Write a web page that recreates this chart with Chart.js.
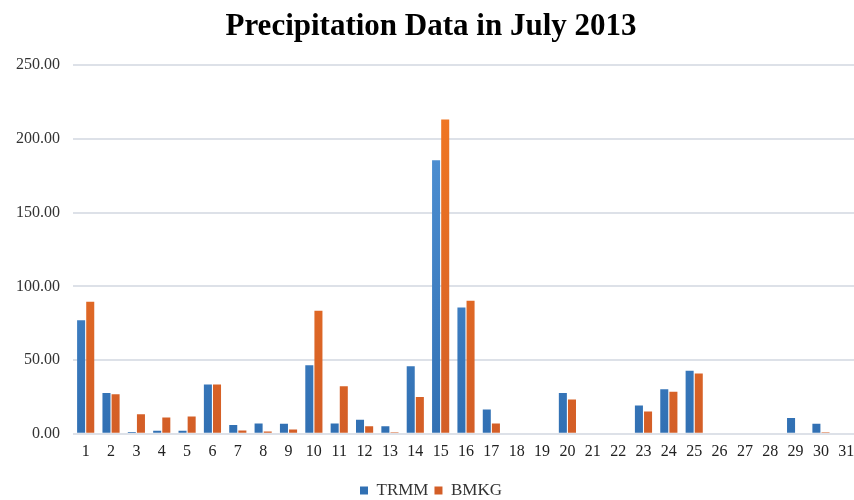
<!DOCTYPE html>
<html>
<head>
<meta charset="utf-8">
<script src="https://cdn.jsdelivr.net/npm/chart.js@4"></script>
<style>
  html, body { margin: 0; padding: 0; background: #fff; overflow: hidden; }
  #wrap { width: 859px; height: 500px; position: relative; }
</style>
</head>
<body>
<div id="wrap"><canvas id="rainChart"></canvas></div>
<script>
const days = ['1','2','3','4','5','6','7','8','9','10','11','12','13','14','15','16',
              '17','18','19','20','21','22','23','24','25','26','27','28','29','30','31'];
const trmm = [77, 27.6, 1.3, 2, 2, 33.4, 5.9, 7, 6.8, 46.5, 7, 9.5, 5.2, 45.9, 185.6, 85.6,
              16.5, 0, 0, 27.6, 0, 0, 19.2, 30.3, 42.7, 0, 0, 0, 10.8, 6.8, 0];
const bmkg = [89.6, 26.9, 13.3, 11, 11.7, 33.4, 2.2, 1.6, 2.9, 83.5, 32.3, 5.2, 1.1, 24.9, 213.2, 90.3,
              7, 0, 0, 23.2, 0, 0, 15.1, 28.5, 40.9, 0, 0, 0, 0, 1.1, 0];
const yTicks = [0, 50, 100, 150, 200, 250];

function barGradient(light, dark) {
    return (ctx) => {
        const area = ctx.chart.chartArea;
        if (!area) return dark;
        const g = ctx.chart.ctx.createLinearGradient(0, area.top, 0, area.bottom);
        g.addColorStop(0, light);
        g.addColorStop(1, dark);
        return g;
    };
}

const serif = "'Liberation Serif', 'DejaVu Serif', serif";

new Chart(document.getElementById('rainChart').getContext('2d'), {
    type: 'bar',
    data: {
        labels: days,
        datasets: [{
            label: 'TRMM',
            data: trmm,
            backgroundColor: barGradient('#5597da', '#3170b3'),
            borderWidth: 0
        }, {
            label: 'BMKG',
            data: bmkg,
            backgroundColor: barGradient('#f47a22', '#d35e27'),
            borderWidth: 0
        }]
    },
    options: {
        responsive: true,
        maintainAspectRatio: false,
        animation: false,
        layout: { padding: { left: 3, right: 0, top: 4, bottom: -9 } },
        datasets: {
            bar: { categoryPercentage: 0.72, barPercentage: 0.88 }
        },
        scales: {
            x: {
                grid: { display: false },
                border: { display: false },
                afterFit: (axis) => { axis.height += 15; },
                ticks: { color: '#222', font: { family: serif, size: 16 }, padding: 0, maxRotation: 0, autoSkip: false }
            },
            y: {
                min: 0,
                max: 250,
                afterBuildTicks: (axis) => { axis.ticks = yTicks.map(v => ({ value: v })); },
                grid: { color: '#dde1e8', lineWidth: 2, drawTicks: false },
                border: { display: false },
                ticks: {
                    color: '#333',
                    font: { family: serif, size: 16 },
                    padding: 13,
                    callback: (v) => Number(v).toFixed(2)
                }
            }
        },
        plugins: {
            title: {
                display: true,
                text: 'Precipitation Data in July 2013',
                color: '#000',
                font: { family: serif, size: 31, weight: 'bold' },
                padding: { top: 4, bottom: 20 }
            },
            legend: {
                position: 'bottom',
                labels: {
                    color: '#333',
                    font: { family: serif, size: 17 },
                    boxWidth: 8,
                    boxHeight: 8,
                    padding: 6
                }
            },
            tooltip: { enabled: false }
        }
    }
});
</script>
</body>
</html>
